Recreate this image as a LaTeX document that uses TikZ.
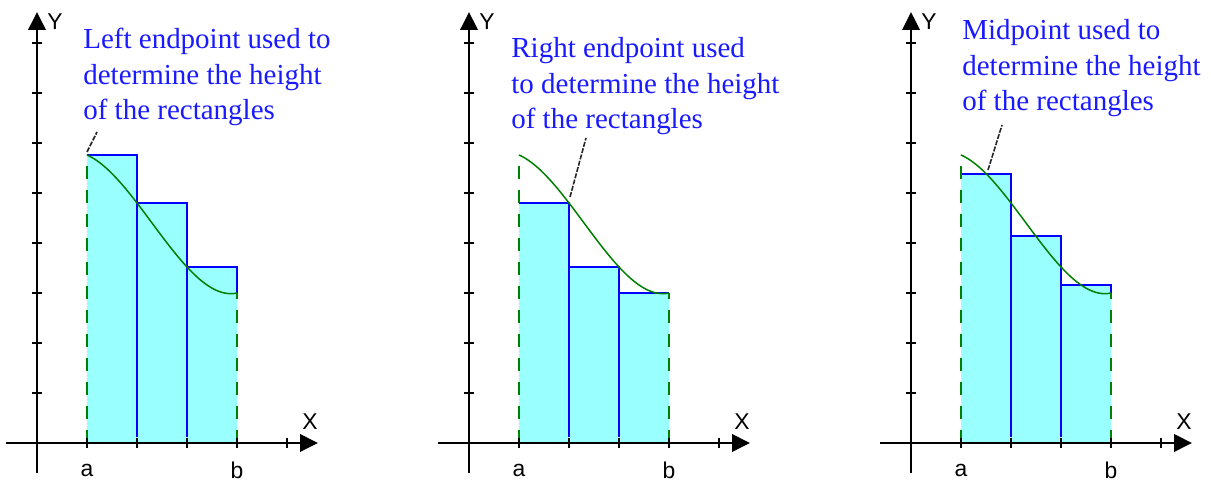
\documentclass[tikz,border=0pt]{standalone}
\usepackage{fontspec}
\setmainfont{Liberation Serif}
\setsansfont{Liberation Sans}
\usetikzlibrary{arrows.meta,positioning}
\definecolor{rsblue}{HTML}{0000FF}
\definecolor{rsnote}{HTML}{1A1AFF}
\definecolor{rscyan}{HTML}{99FFFF}
\definecolor{rsgreen}{HTML}{008000}
\tikzset{
  axis/.style={line width=1.1pt,draw=black,-{Triangle[length=0.36cm,width=0.35cm]}},
  tickmark/.style={line width=1.1pt,draw=black},
  bar/.style={fill=rscyan,draw=none},
  barline/.style={line width=1.1pt,draw=rsblue},
  bound/.style={line width=1.1pt,draw=rsgreen,dash pattern=on 0.26cm off 0.22cm},
  curve/.style={line width=0.85pt,draw=rsgreen},
  leader/.style={line width=0.9pt,draw=black!85,dash pattern=on 0.1cm off 0.03cm},
  note/.style={text=rsnote,align=left,font=\rmfamily\fontsize{16.5}{20.2}\selectfont,inner sep=0pt,anchor=base west},
  axlabel/.style={font=\sffamily\fontsize{13}{13}\selectfont,inner sep=0pt}
}
\def\fcurve{plot[domain=1:4,samples=61,smooth] (\x,{5.76-0.44*(\x-1)-0.7*(\x-1)^2+0.18*(\x-1)^3})}

\begin{document}
\begin{tikzpicture}
\useasboundingbox (-0.74,-0.76) rectangle (23.48,8.86);
% left endpoint
\begin{scope}
\fill[bar] (1,0) rectangle (2,5.76) (2,0) rectangle (3,4.8) (3,0) rectangle (4,3.52);
\draw[barline] (1,5.76) -| (2,0.12);
\draw[barline] (2,4.8) -| (3,0.12);
\draw[barline] (3,3.52) -| (4,3.0);
\draw[bound] (1,0) -- (1,5.76);
\draw[bound] (4,0) -- (4,3.0);
\draw[curve] \fcurve;
\node[note] (note1) at (0.92,6.46) {Left endpoint used to\\determine the height\\of the rectangles};
\coordinate (tip1) at (1,5.82);
\coordinate (end1) at (1.2,6.22);
\draw[leader] (tip1) -- (end1);
\end{scope}
% right endpoint
\begin{scope}[xshift=8.64cm]
\fill[bar] (1,0) rectangle (2,4.8) (2,0) rectangle (3,3.52) (3,0) rectangle (4,3.0);
\draw[barline] (1,4.8) -| (2,0.12);
\draw[barline] (2,3.52) -| (3,0.12);
\draw[barline] (3,3.0) -- (4,3.0);
\draw[bound] (1,0) -- (1,5.76);
\draw[bound] (4,0) -- (4,3.0);
\draw[curve] \fcurve;
\node[note] (note2) at (0.84,6.28) {Right endpoint used\\to determine the height\\of the rectangles};
\coordinate (tip2) at (2.02,4.92);
\coordinate (end2) at (2.34,6.1);
\draw[leader] (tip2) -- (end2);
\end{scope}
% midpoint
\begin{scope}[xshift=17.48cm]
\fill[bar] (1,0) rectangle (2,5.38) (2,0) rectangle (3,4.14) (3,0) rectangle (4,3.16);
\draw[barline] (1,5.38) -| (2,0.12);
\draw[barline] (2,4.14) -| (3,0.12);
\draw[barline] (3,3.16) -| (4,3.0);
\draw[bound] (1,0) -- (1,5.76);
\draw[bound] (4,0) -- (4,3.0);
\draw[curve] \fcurve;
\node[note] (note3) at (1.02,6.64) {Midpoint used to\\determine the height\\of the rectangles};
\coordinate (tip3) at (1.54,5.46);
\coordinate (end3) at (1.82,6.36);
\draw[leader] (tip3) -- (end3);
\end{scope}
% axes
\foreach \p/\sx in {1/0,2/8.64,3/17.48}{
  \begin{scope}[xshift=\sx cm]
  \draw[axis] (-0.63,0) -- (5.62,0);
  \draw[axis] (0,-0.6) -- (0,8.62);
  \foreach \k in {1,...,5} \draw[tickmark] (\k,-0.1) -- (\k,0.1);
  \foreach \k in {1,...,8} \draw[tickmark] (-0.1,\k) -- (0.1,\k);
  \node[axlabel] (ylab\p) at (0.36,8.42) {Y};
  \node[axlabel] (xlab\p) at (5.46,0.42) {X};
  \node[axlabel] (a\p) at (1,-0.54) {a};
  \node[axlabel] (b\p) at (4,-0.54) {b};
  \end{scope}
}
\end{tikzpicture}
\end{document}
